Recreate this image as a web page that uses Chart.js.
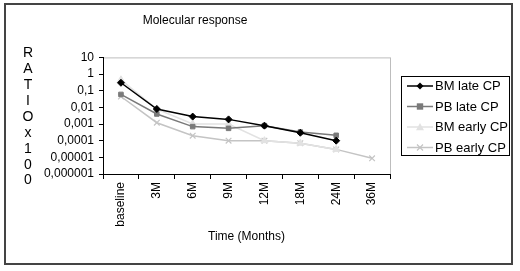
<!DOCTYPE html>
<html>
<head>
<meta charset="utf-8">
<script src="https://cdn.jsdelivr.net/npm/chart.js@4.4.0/dist/chart.umd.min.js"></script>
<style>
html,body{margin:0;padding:0;background:#fff;}
#wrap{width:520px;height:271px;position:relative;}
</style>
</head>
<body>
<div id="wrap"><canvas id="c" width="520" height="271"></canvas></div>
<script>
const categories = ['baseline','3M','6M','9M','12M','18M','24M','36M'];
const bmLate  = [0.3, 0.008, 0.0028, 0.0019, 0.0008, 0.0003, 0.0001, null];
const pbLate  = [0.06, 0.004, 0.0007, 0.00055, 0.0008, 0.00033, 0.00021, null];
const bmEarly = [0.45, 0.008, 0.001, 0.001, 0.0001, 0.00007, 0.00003, null];
const pbEarly = [0.045, 0.0012, 0.0002, 0.0001, 0.0001, 0.00007, 0.00003, 0.0000087];
const seriesNames = ['BM late CP','PB late CP','BM early CP','PB early CP'];
const yTickValues = [10, 1, 0.1, 0.01, 0.001, 0.0001, 0.00001, 0.000001];
const chartTitle = 'Molecular response';
const xTitle = 'Time (Months)';
const yTitle = 'RATIOx100';

const FONT = 'Liberation Sans, Arial, sans-serif';
const styles = [
  {color:'#000000', point:'rectRot', r:3.5},
  {color:'#7a7a7a', point:'rect', r:3.2},
  {color:'#e2e2e2', point:'triangle', r:4},
  {color:'#c4c4c4', point:'crossRot', r:4}
];
const seriesData = [bmLate, pbLate, bmEarly, pbEarly];

function drawMarker(ctx, st, x, y){
  ctx.save();
  ctx.fillStyle = st.color; ctx.strokeStyle = st.color; ctx.lineWidth = 1.2;
  const r = st.r;
  ctx.beginPath();
  if (st.point === 'rectRot'){
    ctx.moveTo(x, y-r); ctx.lineTo(x+r, y); ctx.lineTo(x, y+r); ctx.lineTo(x-r, y); ctx.closePath(); ctx.fill();
  } else if (st.point === 'rect'){
    ctx.rect(x-r, y-r, 2*r, 2*r); ctx.fill();
  } else if (st.point === 'triangle'){
    ctx.moveTo(x, y-r); ctx.lineTo(x+r, y+r*0.8); ctx.lineTo(x-r, y+r*0.8); ctx.closePath(); ctx.fill();
  } else {
    const d = r*0.75;
    ctx.moveTo(x-d, y-d); ctx.lineTo(x+d, y+d); ctx.moveTo(x+d, y-d); ctx.lineTo(x-d, y+d); ctx.stroke();
  }
  ctx.restore();
}

const framePlugin = {
  id:'frame',
  beforeDraw(chart){
    const ctx = chart.ctx, a = chart.chartArea;
    ctx.save();
    ctx.fillStyle = '#fff'; ctx.fillRect(0,0,chart.width,chart.height);
    ctx.strokeStyle = '#444'; ctx.lineWidth = 2;
    ctx.strokeRect(5, 4, 507, 260);
    ctx.strokeStyle = '#bdbdbd'; ctx.lineWidth = 1;
    ctx.strokeRect(a.left+0.5, a.top+0.5, a.right-a.left, a.bottom-a.top);
    ctx.restore();
  },
  afterDraw(chart){
    const ctx = chart.ctx;
    ctx.save();
    // vertical stacked y title
    ctx.fillStyle = '#000';
    ctx.font = '14px ' + FONT;
    ctx.textAlign = 'center'; ctx.textBaseline = 'middle';
    const letters = yTitle.split('');
    letters.forEach((ch, i) => ctx.fillText(ch, 28, 53 + i*15.95));
    // legend
    ctx.strokeStyle = '#000'; ctx.lineWidth = 1;
    ctx.strokeRect(401.5, 76.5, 108, 79);
    const rows = [86, 106.5, 127, 147.5];
    ctx.font = '13px ' + FONT;
    ctx.textAlign = 'left';
    seriesNames.forEach((name, i) => {
      const st = styles[i], y = rows[i];
      ctx.strokeStyle = st.color; ctx.lineWidth = 1.5;
      ctx.beginPath(); ctx.moveTo(407, y); ctx.lineTo(433, y); ctx.stroke();
      drawMarker(ctx, st, 420, y);
      ctx.fillStyle = '#000';
      ctx.fillText(name, 435, y + 0.5);
    });
    ctx.restore();
  }
};

new Chart(document.getElementById('c'), {
  type:'line',
  data:{
    labels: categories,
    datasets: seriesNames.map((name, i) => ({
      label: name,
      data: seriesData[i],
      borderColor: styles[i].color,
      backgroundColor: styles[i].color,
      pointBorderColor: styles[i].color,
      pointBackgroundColor: styles[i].color,
      pointStyle: styles[i].point,
      pointRadius: styles[i].r,
      pointBorderWidth: styles[i].point === 'crossRot' ? 1.2 : 1,
      borderWidth: 1.5,
      tension: 0,
      spanGaps: false
    }))
  },
  options:{
    responsive:false,
    animation:false,
    devicePixelRatio:1,
    layout:{padding:{left:0, right:130, top:0, bottom:0}},
    plugins:{
      legend:{display:false},
      tooltip:{enabled:false},
      title:{display:true, text:chartTitle, color:'#000', font:{family:FONT, size:12, weight:'normal'}, padding:{top:13, bottom:30}}
    },
    scales:{
      x:{
        type:'category',
        offset:true,
        grid:{display:true, drawOnChartArea:false, drawTicks:true, tickLength:5, color:'#000', offset:true},
        border:{display:true, color:'#000', width:1},
        ticks:{minRotation:90, maxRotation:90, autoSkip:false, color:'#000', padding:3, font:{family:FONT, size:12}},
        title:{display:true, text:xTitle, color:'#000', font:{family:FONT, size:12}, padding:{top:4, bottom:27}},
        afterFit(s){ s.height = 97; }
      },
      y:{
        type:'logarithmic',
        min:0.000001, max:10,
        grid:{display:true, drawOnChartArea:false, drawTicks:true, tickLength:4, color:'#000'},
        border:{display:true, color:'#000', width:1},
        ticks:{autoSkip:false, color:'#000', padding:5, font:{family:FONT, size:12},
          callback:(v) => String(v).replace('.', ',')},
        afterBuildTicks(s){ s.ticks = yTickValues.map(v => ({value:v, major:true})); },
        afterFit(s){ s.width = 103; }
      }
    }
  },
  plugins:[framePlugin]
});
</script>
</body>
</html>
